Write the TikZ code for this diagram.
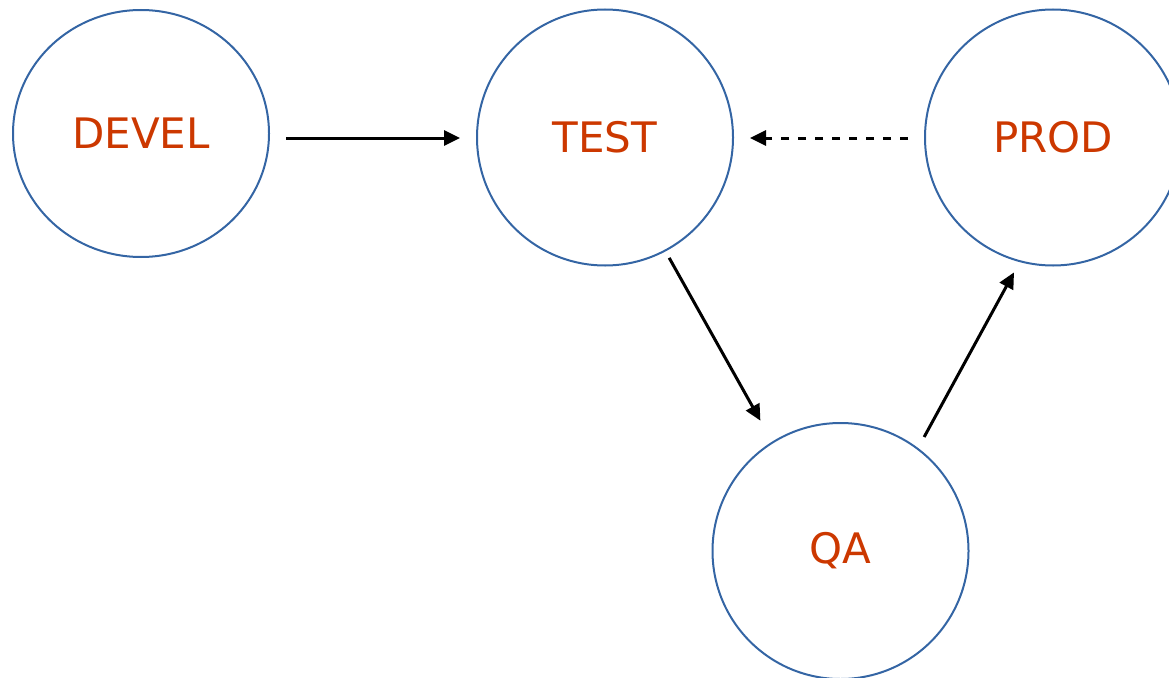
\documentclass[tikz,border=0pt]{standalone}
\usepackage{fontspec}
\setmainfont{DejaVu Sans}
\usetikzlibrary{arrows.meta,shapes.geometric}
\definecolor{ringblue}{RGB}{52,101,164}
\definecolor{labelred}{RGB}{204,56,0}
\begin{document}
\begin{tikzpicture}[x=1pt,y=-1pt,
  stage/.style={circle,draw=ringblue,line width=2pt,minimum size=256pt,inner sep=0pt,
    text=labelred,font=\fontsize{42}{50}\selectfont},
  flow/.style={line width=3pt,-{Triangle[length=16pt,width=15pt]}},
  backflow/.style={flow,dash pattern=on 8pt off 9pt}]
  \useasboundingbox (0,0) rectangle (1169,677);
  \clip (0,0) rectangle (1169,677);
  \node[stage,ellipse,minimum width=256pt,minimum height=247pt] (devel) at (141,133.5) {DEVEL};
  \node[stage] (test) at (605,137.5) {TEST};
  \node[stage] (prod) at (1053,137.5) {PROD};
  \node[stage] (qa) at (840.5,551) {QA};
  \draw[flow,shorten <=16pt,shorten >=16pt] ([yshift=-4.5pt]devel.east) -- ([yshift=-0.5pt]test.west);
  \draw[backflow,shorten <=16pt,shorten >=16pt] ([yshift=-0.5pt]prod.west) -- ([yshift=-0.5pt]test.east);
  \draw[flow,shorten <=7.4pt,shorten >=24pt] (test.-62.8) -- (qa.122.8);
  \draw[flow,shorten <=12.5pt,shorten >=11.7pt] (qa.53.5) -- (prod.-105.8);
\end{tikzpicture}
\end{document}
